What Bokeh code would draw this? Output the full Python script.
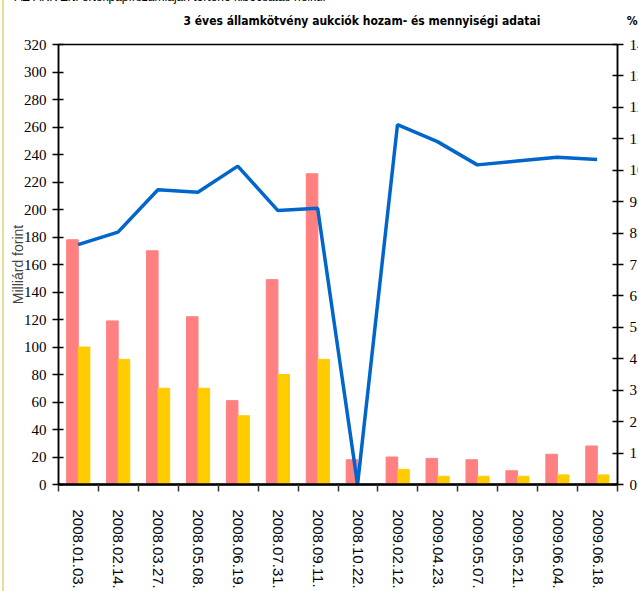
from bokeh.plotting import figure
from bokeh.models import Range1d, LinearAxis, FixedTicker, Title, ColumnDataSource
from bokeh.transform import dodge
from bokeh.core.templates import get_env
from bokeh.embed import file_html
from bokeh.resources import INLINE

dates = ["2008.01.03.", "2008.02.14.", "2008.03.27.", "2008.05.08.", "2008.06.19.",
         "2008.07.31.", "2008.09.11.", "2008.10.22.", "2009.02.12.", "2009.04.23.",
         "2009.05.07.", "2009.05.21.", "2009.06.04.", "2009.06.18."]
offered = [178, 119, 170, 122, 61, 149, 226, 18, 20, 19, 18, 10, 22, 28]
accepted = [100, 91, 70, 70, 50, 80, 91, 0, 11, 6, 6, 6, 7, 7]
yield_pct = [7.63, 8.03, 9.38, 9.30, 10.13, 8.72, 8.79, 0.0, 11.45, 10.91, 10.17, 10.29, 10.41, 10.34]
left_ticks = list(range(0, 321, 20))
right_ticks = list(range(0, 15))

title_text = "3 éves államkötvény aukciók hozam- és mennyiségi adatai"
unit_text = "%"
header_text = "AZ ÁKK Zrt. értékpapírszámláján történő kibocsátás nélkül"

pos = [i + 0.5 for i in range(len(dates))]
src = ColumnDataSource(dict(x=pos, offered=offered, accepted=accepted, yld=yield_pct))

NARROW = "Liberation Sans Narrow"
SANS = "Liberation Sans"
TITLE_FONT = "DejaVu Sans Condensed, Liberation Sans Narrow, sans-serif"

SHIFT = 5                      # page is scrolled slightly, header line is cut at the top
FL, FT, FB = 58, 44 + SHIFT, 107

p = figure(frame_width=559, frame_height=440,
           x_range=Range1d(0, len(dates)), y_range=Range1d(0, 320),
           output_backend="svg", toolbar_location=None,
           min_border_left=FL, min_border_right=0, min_border_top=FT, min_border_bottom=FB)
p.styles = {"margin-top": f"-{SHIFT}px"}
p.extra_y_ranges = {"pct": Range1d(0, 14)}
p.xgrid.visible = False
p.ygrid.visible = False
p.outline_line_color = "black"
p.outline_line_width = 1.5
p.background_fill_color = "white"
p.border_fill_color = None

p.vbar(x=dodge("x", -0.15), top="offered", width=0.29, color="#FF8080", source=src)
p.vbar(x=dodge("x", 0.14), top="accepted", width=0.29, color="#FFCC00", source=src)
p.line(x=dodge("x", -0.01), y="yld", y_range_name="pct", line_color="#0066CC",
       line_width=3.5, source=src)

xa = p.xaxis[0]
xa.ticker = FixedTicker(ticks=pos, minor_ticks=[float(i) for i in range(len(dates) + 1)])
xa.major_label_overrides = {float(x): d for x, d in zip(pos, dates)}
xa.major_tick_line_color = None
xa.major_tick_in = 0
xa.major_tick_out = 0
xa.minor_tick_in = 0
xa.minor_tick_out = 7
xa.minor_tick_line_color = "#333333"
xa.minor_tick_line_width = 1.5
xa.axis_line_width = 2.5
xa.axis_line_color = "black"
xa.major_label_orientation = "vertical"
xa.major_label_text_font = SANS
xa.major_label_text_font_size = "15px"
xa.major_label_text_color = "black"
xa.major_label_standoff = 18

ya = p.yaxis[0]
ya.ticker = FixedTicker(ticks=left_ticks)
ya.minor_tick_line_color = None
ya.major_tick_in = 5
ya.major_tick_out = 6
ya.major_tick_line_width = 1.5
ya.axis_line_width = 1.5
ya.axis_line_color = "black"
ya.major_label_text_font = NARROW
ya.major_label_text_font_size = "15px"
ya.major_label_text_color = "black"
ya.major_label_standoff = 6
ya.axis_label = "Milliárd forint"
ya.axis_label_text_font = SANS
ya.axis_label_text_font_style = "normal"
ya.axis_label_text_font_size = "14px"
ya.axis_label_standoff = -5

ra = LinearAxis(y_range_name="pct", ticker=FixedTicker(ticks=right_ticks))
ra.minor_tick_line_color = None
ra.major_tick_in = 5
ra.major_tick_out = 6
ra.major_tick_line_width = 1.5
ra.axis_line_width = 1.5
ra.axis_line_color = "black"
ra.major_label_text_font = NARROW
ra.major_label_text_font_size = "15px"
ra.major_label_text_color = "black"
ra.major_label_standoff = 6
p.add_layout(ra, "right")

# chart title with the right-axis unit on the same line
p.add_layout(Title(text=title_text + "\u00a0" * 23 + unit_text, align="left", offset=125,
                   text_font=TITLE_FONT, text_font_style="bold", text_font_size="12px",
                   text_color="black", standoff=33), "above")
p.add_layout(Title(text=header_text, align="left", offset=-44,
                   text_font=SANS, text_font_style="normal", text_font_size="12px",
                   text_color="black", standoff=-16), "above")

tmpl = get_env().from_string("""{% extends "file.html" %}
{% block postamble %}
<style>
  html, body { overflow: hidden; }
  body { background: linear-gradient(to right, #ffffff 2px, #E8DE98 2px, #E8DE98 4px, #ffffff 4px); }
</style>
{% endblock %}""")

open("out.html", "w").write(file_html(p, INLINE, template=tmpl))
